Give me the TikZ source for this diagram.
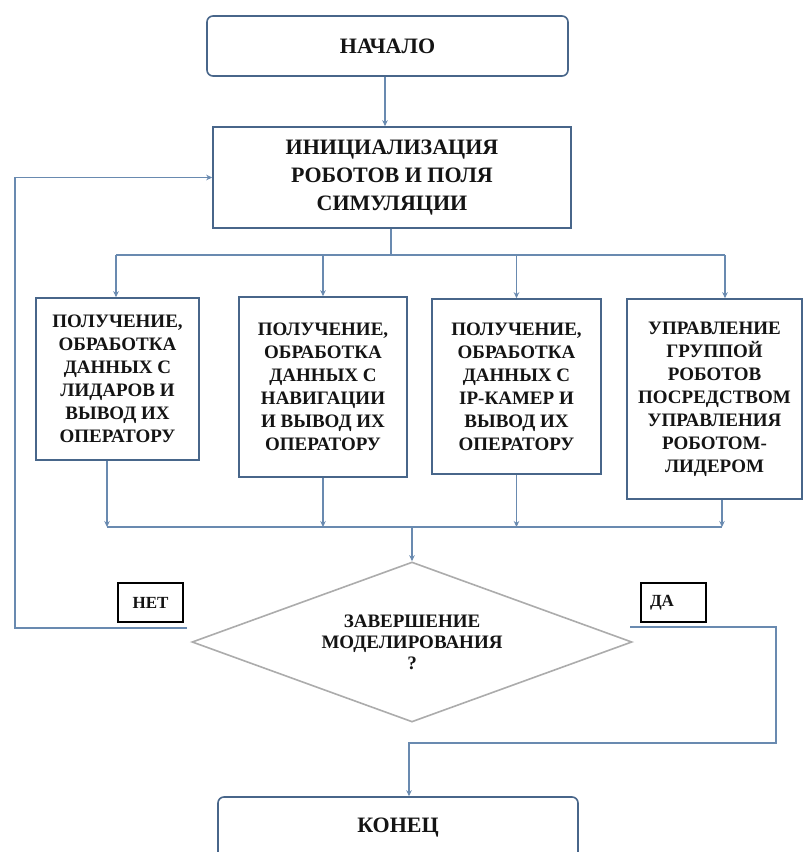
\documentclass[tikz,border=0pt]{standalone}
\usepackage{fontspec}
\setmainfont{Liberation Serif}
\usetikzlibrary{shapes.geometric,arrows.meta}
\definecolor{boxc}{RGB}{72,102,138}
\definecolor{linec}{RGB}{105,138,176}
\definecolor{diac}{RGB}{172,172,172}
\definecolor{txt}{RGB}{20,20,20}
\tikzset{
  x=1pt,y=-1pt,
  every node/.style={text=txt,font=\bfseries},
  termbox/.style={draw=boxc,line width=1.6pt,rounded corners=6pt,inner sep=0pt,font=\bfseries\fontsize{22}{28}\selectfont},
  procbox/.style={draw=boxc,line width=1.6pt,inner sep=0pt,align=center},
  smalltext/.style={font=\bfseries\fontsize{19}{23}\selectfont},
  decision/.style={diamond,draw=diac,line width=1.6pt,inner sep=0pt,aspect=2.75,align=center,font=\bfseries\fontsize{19}{21}\selectfont},
  tagbox/.style={draw=black,line width=1.5pt,inner sep=0pt,font=\bfseries\fontsize{17}{20}\selectfont},
  conn/.style={draw=linec,line width=1.2pt},
  arr/.style={conn,-{Stealth[length=6pt,width=5.5pt]}}
}
\begin{document}
\begin{tikzpicture}
\useasboundingbox (0,0) rectangle (804,852);
\clip (0,0) rectangle (804,852);
\fill[white] (0,0) rectangle (804,852);
% nodes
\node[termbox,minimum width=361,minimum height=60] (start) at (387.5,46) {НАЧАЛО};
\node[procbox,minimum width=358,minimum height=101,font=\bfseries\fontsize{22}{28}\selectfont] (init) at (392,177.5) {ИНИЦИАЛИЗАЦИЯ\\РОБОТОВ И ПОЛЯ\\СИМУЛЯЦИИ};
\node[procbox,smalltext,minimum width=163,minimum height=162] (b1) at (117.5,379) {ПОЛУЧЕНИЕ,\\ОБРАБОТКА\\ДАННЫХ С\\ЛИДАРОВ И\\ВЫВОД ИХ\\ОПЕРАТОРУ};
\node[procbox,smalltext,minimum width=168,minimum height=180] (b2) at (323,387) {ПОЛУЧЕНИЕ,\\ОБРАБОТКА\\ДАННЫХ С\\НАВИГАЦИИ\\И ВЫВОД ИХ\\ОПЕРАТОРУ};
\node[procbox,smalltext,minimum width=169,minimum height=175] (b3) at (516.5,386.5) {ПОЛУЧЕНИЕ,\\ОБРАБОТКА\\ДАННЫХ С\\IP-КАМЕР И\\ВЫВОД ИХ\\ОПЕРАТОРУ};
\node[procbox,smalltext,minimum width=175,minimum height=200] (b4) at (714.5,399) {УПРАВЛЕНИЕ\\ГРУППОЙ\\РОБОТОВ\\ПОСРЕДСТВОМ\\УПРАВЛЕНИЯ\\РОБОТОМ-\\ЛИДЕРОМ};
\node[decision,minimum width=440,minimum height=160] (dec) at (412,642) {ЗАВЕРШЕНИЕ\\МОДЕЛИРОВАНИЯ\\?};
\node[tagbox,minimum width=65,minimum height=39] (no) at (150.5,602.5) {НЕТ};
\node[tagbox,text width=47,inner xsep=9pt,minimum height=39,align=left] (yes) at (673.5,602.5) {ДА};
\node[termbox,minimum width=360,minimum height=62] (fin) at (398,828) {КОНЕЦ};
% junction coordinates
\coordinate (topbus) at (391,255);
\coordinate (tbL) at (116,255);
\coordinate (tbR) at (725,255);
\coordinate (botbus) at (412,527);
\coordinate (bbL) at (107,527);
\coordinate (bbR) at (722,527);
\coordinate (nostart) at (187,628);
\coordinate (noL) at (15,628);
\coordinate (yesstart) at (630,627);
\coordinate (yesR) at (776,627);
\coordinate (yesB) at (409,743);
% connectors
\draw[arr] (start.south -| 385,0) -- (init.north -| 385,0);
\draw[conn] (init.south -| topbus) -- (topbus);
\draw[conn] (tbL) -- (tbR);
\draw[arr] (tbL) -- (tbL |- b1.north);
\draw[arr] (b2.north |- topbus) -- (b2.north);
\draw[arr] (b3.north |- topbus) -- (b3.north);
\draw[arr] (tbR) -- (tbR |- b4.north);
\draw[arr] (bbL |- b1.south) -- (bbL);
\draw[arr] (b2.south) -- (b2.south |- botbus);
\draw[arr] (b3.south) -- (b3.south |- botbus);
\draw[arr] (bbR |- b4.south) -- (bbR);
\draw[conn] (bbL) -- (bbR);
\draw[arr] (dec.north |- botbus) -- (dec.north);
\draw[arr] (nostart) -- (noL) -- (noL |- init.west) -- (init.west);
\draw[arr] (yesstart) -- (yesR) -- (yesR |- yesB) -- (yesB) -- (yesB |- fin.north);
\end{tikzpicture}
\end{document}
